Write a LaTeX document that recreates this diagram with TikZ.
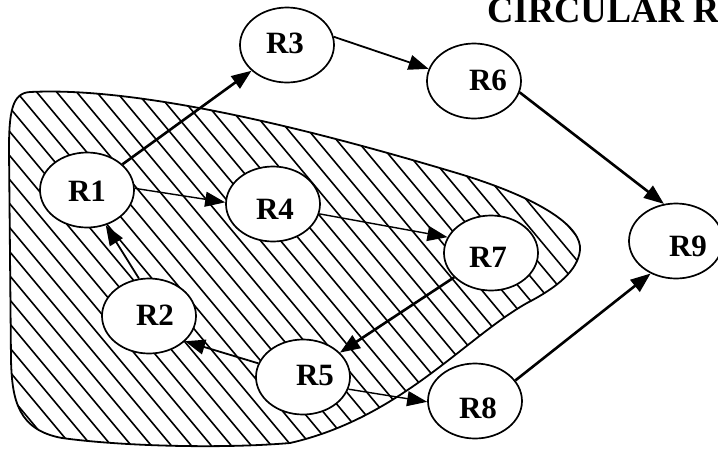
\documentclass[tikz,border=0pt]{standalone}
\usepackage{fontspec}
\setmainfont{Liberation Serif}
\usetikzlibrary{arrows.meta,shapes.geometric}

\newcommand\zoneoutline{%
  (30,92) .. controls (150,86) and (340,138) .. (460,174)
  .. controls (545,200) and (582,228) .. (580,250)
  .. controls (578,270) and (558,287) .. (527,303)
  .. controls (465,338) and (400,418) .. (290,443)
  .. controls (220,449) and (120,446) .. (62,438)
  .. controls (18,430) and (12,400) .. (11,360)
  -- (9,150)
  .. controls (9,112) and (12,93) .. (30,92) -- cycle}

\begin{document}
\begin{tikzpicture}[x=1pt,y=-1pt,
  region/.style={ellipse,draw,line width=1.7pt,fill=white,
    minimum width=94pt,minimum height=75pt,inner sep=0pt},
  lbl/.style={font=\fontsize{31}{36}\selectfont\bfseries,inner sep=0pt},
  hatchline/.style={line width=1.6pt},
  link/.style={line width=1.8pt,-{Triangle[length=20pt,width=15pt]}},
  thinlink/.style={link,line width=1.4pt},
  thicklink/.style={link,line width=2.6pt}]

\useasboundingbox (0,0) rectangle (718,448);

% hatched zone
\begin{scope}
  \clip \zoneoutline;
  \foreach \c in {-460,-440,...,600}
    \draw[hatchline] (\c,0) -- ++(400,480);
\end{scope}
\draw[line width=1.8pt] \zoneoutline;

% title
\node[anchor=base west,inner sep=0pt,font=\fontsize{36.5}{40}\selectfont\bfseries]
  (title) at (487,22) {CIRCULAR R};

% regions
\node[region] (r1) at (87,190) {};
\node[region] (r2) at (149,316) {};
\node[region] (r3) at (287,45) {};
\node[region] (r4) at (273,204) {};
\node[region] (r5) at (303,377) {};
\node[region] (r6) at (474,81) {};
\node[region] (r7) at (491,253) {};
\node[region] (r8) at (475,401) {};
\node[region] (r9) at (676,241) {};

\node[lbl] (r1t) at (87,191) {R1};
\node[lbl] (r2t) at (155,315) {R2};
\node[lbl] (r3t) at (285,43) {R3};
\node[lbl] (r4t) at (275,209) {R4};
\node[lbl] (r5t) at (315,375) {R5};
\node[lbl] (r6t) at (488,80) {R6};
\node[lbl] (r7t) at (488,257) {R7};
\node[lbl] (r8t) at (478,408) {R8};
\node[lbl] (r9t) at (688,246) {R9};

% connections
\draw[thicklink] (r1) -- (r3);
\draw[thinlink] (r1.2) -- (r4.178);
\draw[link] (r2.105) -- (r1.-62);
\draw[link] (r3.10) -- (r6.165);
\draw[thinlink] (r4.-12) -- (r7.160);
\draw[thicklink] (r6.-14) -- (r9.108);
\draw[thicklink] (r7) -- (r5);
\draw[link] (r5.163) -- (r2.-35);
\draw[thinlink] (r5.-15) -- (r8.181);
\draw[thicklink] (r8.27) -- (r9.232);

\end{tikzpicture}
\end{document}
